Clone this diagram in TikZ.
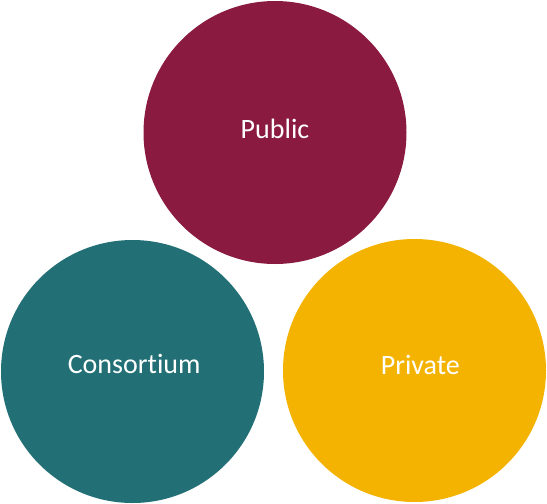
\documentclass[tikz,border=0pt]{standalone}
\usepackage{fontspec}
\setmainfont[Ligatures=NoCommon]{Carlito}
\usepackage{tikz}
\usetikzlibrary{positioning}
\definecolor{publiccol}{HTML}{8B1A40}
\definecolor{consortcol}{HTML}{227075}
\definecolor{privatecol}{HTML}{F3B300}
\tikzset{
  chainball/.style={circle,minimum size=263pt,inner sep=0pt},
  chainlabel/.style={anchor=base,inner sep=0pt,text=white,
    font=\fontsize{28}{32}\selectfont},
}
\begin{document}
\begin{tikzpicture}[x=1pt,y=-1pt]
  % Canvas
  \useasboundingbox (0,0) rectangle (547,504);
  % Blockchain types
  \node[chainball,fill=publiccol] (public) at (275,132.5) {};
  \node[chainball,fill=consortcol] (consortium) at (132.5,371.5) {};
  \node[chainball,fill=privatecol] (private) at (414.5,370.5) {};
  % Labels
  \node[chainlabel] (publictext) at (275,138.3) {Public};
  \node[chainlabel] (consortiumtext) at (134.2,373.3) {Consortium};
  \node[chainlabel] (privatetext) at (420.3,374) {Private};
\end{tikzpicture}
\end{document}
